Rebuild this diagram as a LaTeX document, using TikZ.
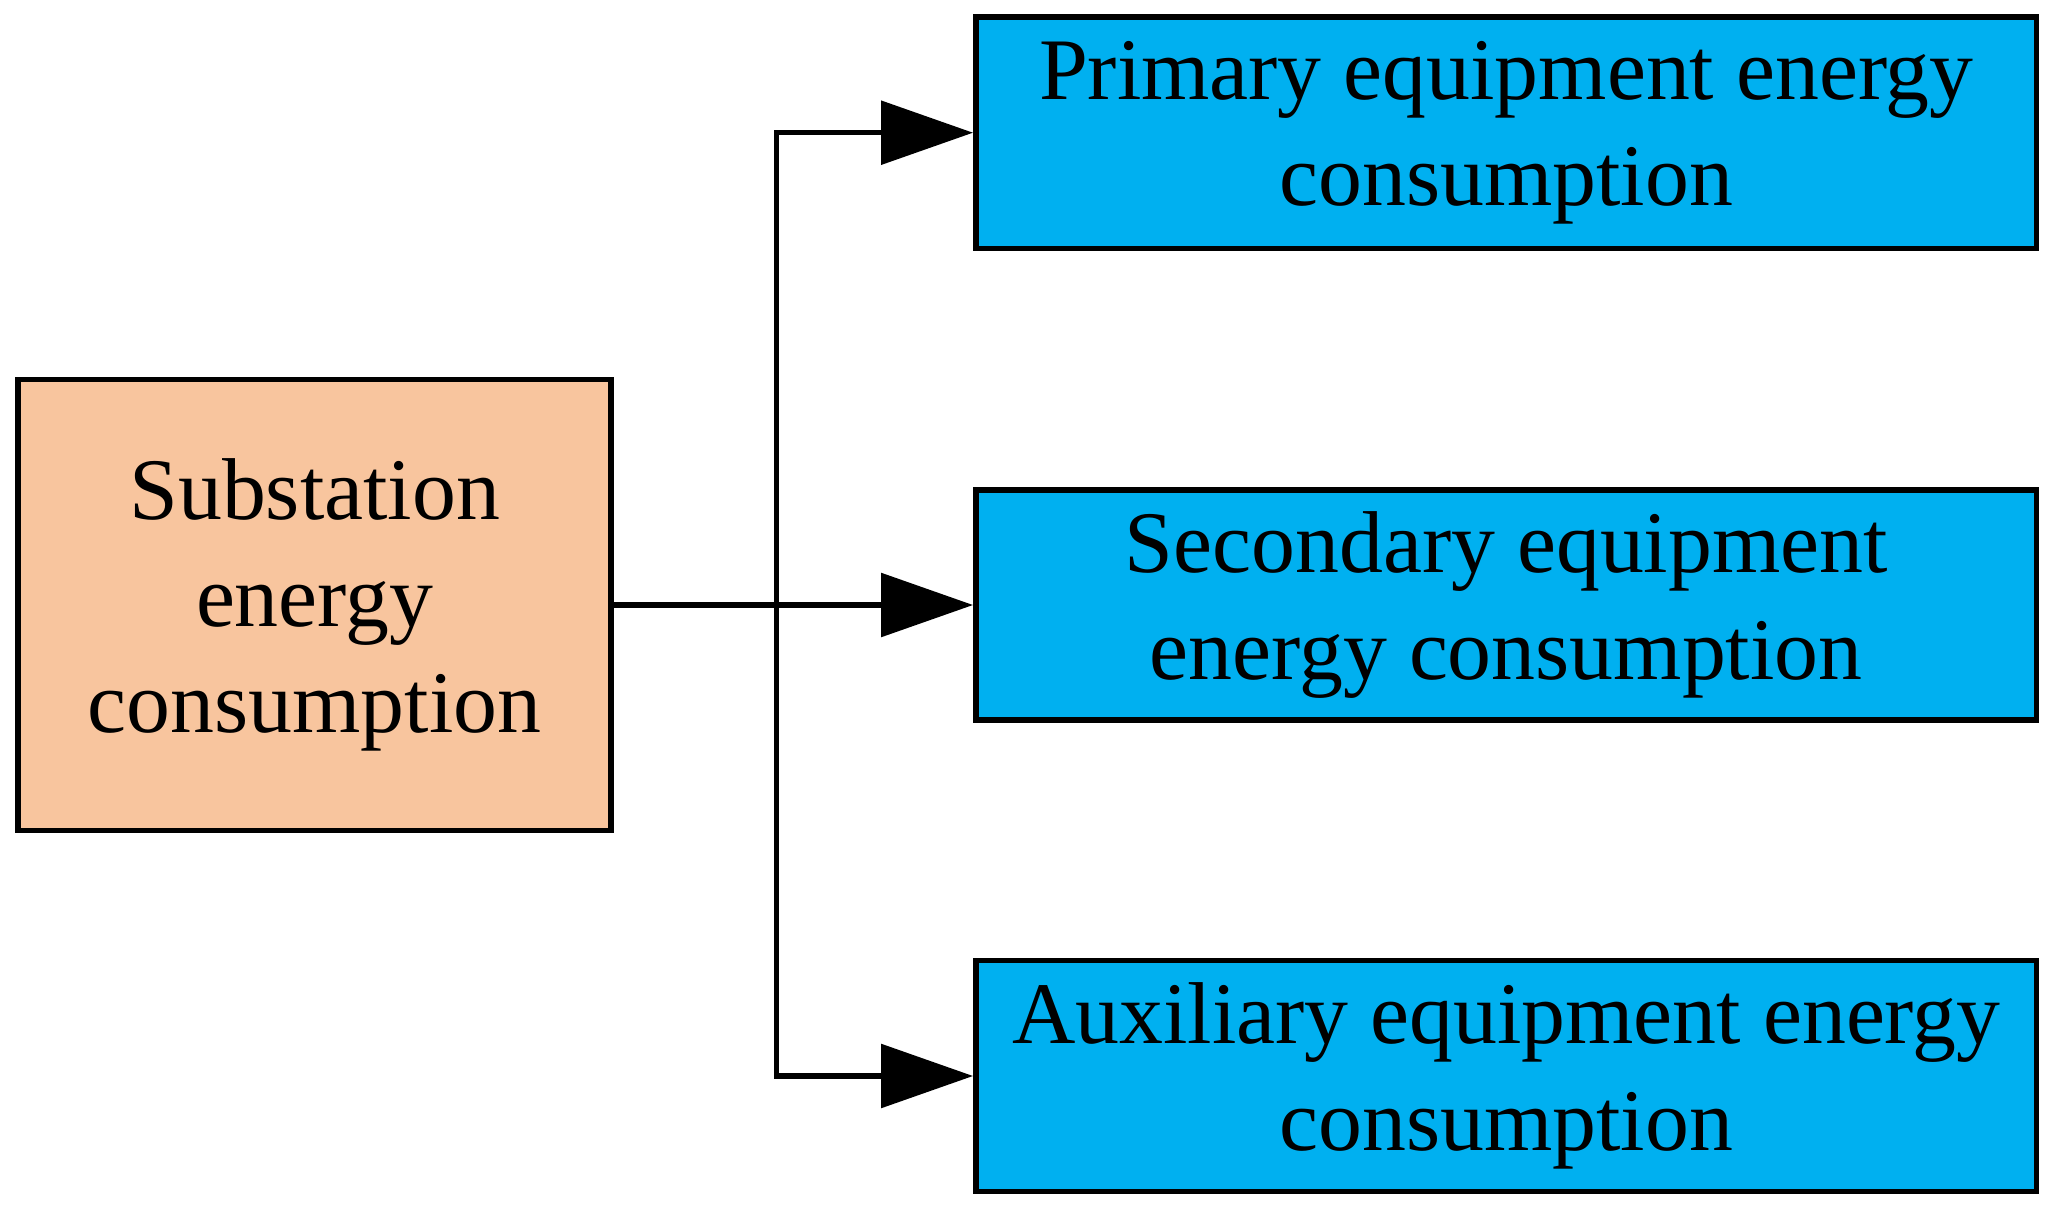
\documentclass[tikz,border=0pt]{standalone}
\usepackage{fontspec}
\setmainfont{Liberation Serif}
\usetikzlibrary{arrows.meta}
\begin{document}
\begin{tikzpicture}[x=0.01cm,y=-0.01cm,
  box/.style={draw,line width=1.2pt,inner sep=0pt,align=center,font=\fontsize{19}{23}\selectfont},
  arr/.style={line width=1.2pt,-{Triangle[length=0.7cm,width=0.48cm]}}]
\useasboundingbox (0,0) rectangle (1568,920);
\node[box,fill={rgb,255:red,248;green,197;blue,158},minimum width=4.51cm,minimum height=3.43cm] (s) at (239.5,460.5) {Substation\\energy\\consumption};
\node[box,fill={rgb,255:red,0;green,176;blue,240},minimum width=8.07cm,minimum height=1.76cm] (p) at (1146.5,101) {Primary equipment energy\\consumption};
\node[box,fill={rgb,255:red,0;green,176;blue,240},minimum width=8.07cm,minimum height=1.75cm] (c) at (1146.5,460.5) {Secondary equipment\\energy consumption};
\node[box,fill={rgb,255:red,0;green,176;blue,240},minimum width=8.07cm,minimum height=1.76cm] (a) at (1146.5,819) {Auxiliary equipment energy\\consumption};
\coordinate (j) at (591,460.5);
\draw[arr] (s.east) -- (c.west);
\draw[arr] (j) |- (p.west);
\draw[arr] (j) |- (a.west);
\end{tikzpicture}
\end{document}
